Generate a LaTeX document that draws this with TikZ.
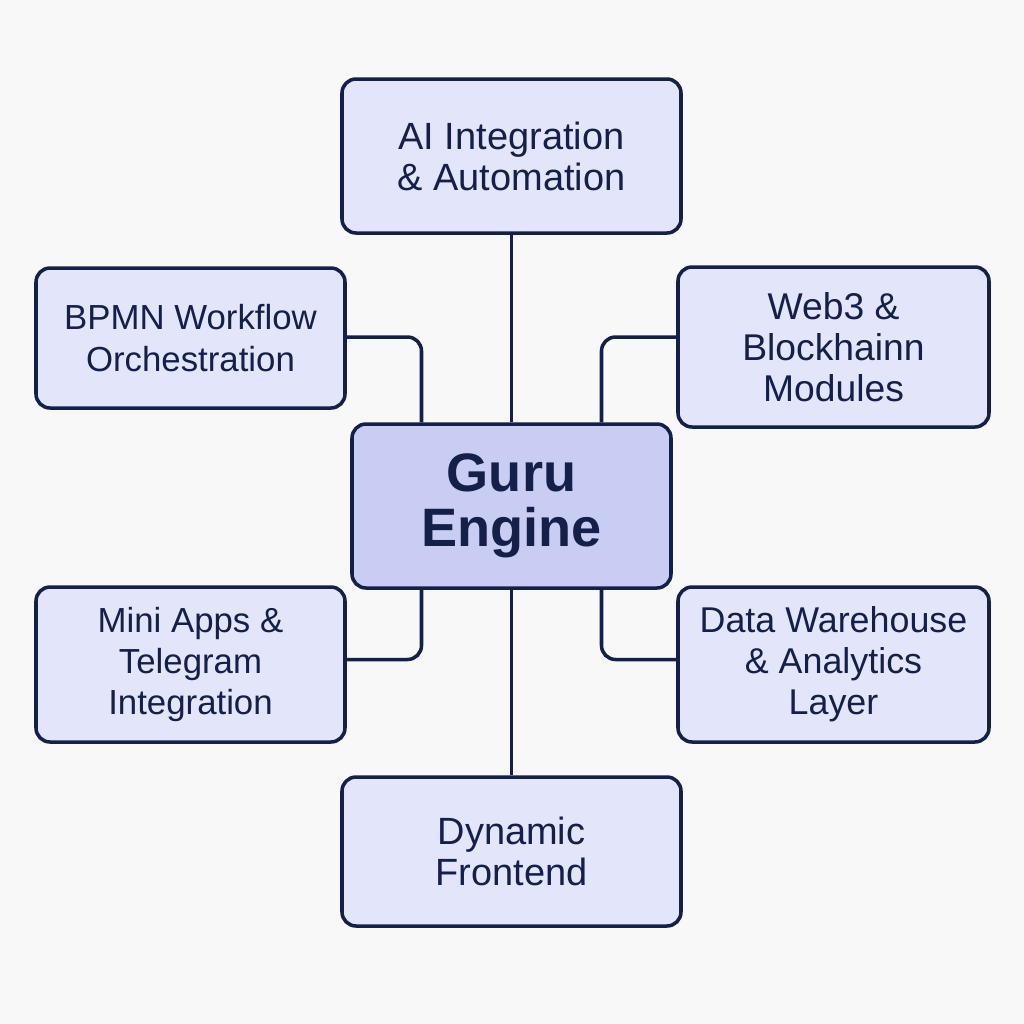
\documentclass[tikz,border=0pt]{standalone}
\usepackage{fontspec}
\setmainfont{Liberation Sans}
\usetikzlibrary{positioning}

\definecolor{pagebg}{HTML}{F8F8F9}
\definecolor{boxfill}{HTML}{E3E5FA}
\definecolor{corefill}{HTML}{C9CDF3}
\definecolor{ink}{HTML}{14204A}

\tikzset{
  module/.style={draw=ink, line width=1pt, rounded corners=4pt, fill=boxfill,
    text=ink, align=center, inner sep=0pt, font=\fontsize{9.9}{11.7}\selectfont},
  bigmodule/.style={module, font=\fontsize{10.8}{11.7}\selectfont},
  core/.style={module, fill=corefill, font=\fontsize{15.4}{15.6}\selectfont\bfseries},
  link/.style={draw=ink, line width=1pt, rounded corners=4pt}
}

\begin{document}
\begin{tikzpicture}
\fill[pagebg] (0,0) rectangle (10.24,-10.24);
\useasboundingbox (0,0) rectangle (10.24,-10.24);

\node[core, minimum width=3.19cm, minimum height=1.64cm] (guru) at (5.115,-5.06) {Guru\\Engine};

\node[bigmodule, minimum width=3.39cm, minimum height=1.54cm] (ai) at (5.115,-1.56) {AI Integration\\\& Automation};
\node[module, minimum width=3.09cm, minimum height=1.40cm] (bpmn) at (1.905,-3.38) {BPMN Workflow\\Orchestration};
\node[module, font=\fontsize{10.6}{11.6}\selectfont, minimum width=3.11cm, minimum height=1.60cm] (web) at (8.335,-3.47) {Web3 \&\\Blockhainn\\Modules};
\node[module, minimum width=3.09cm, minimum height=1.55cm] (mini) at (1.905,-6.645) {Mini Apps \&\\Telegram\\Integration};
\node[module, font=\fontsize{10.2}{11.7}\selectfont, minimum width=3.11cm, minimum height=1.55cm] (data) at (8.335,-6.645) {Data Warehouse\\\& Analytics\\Layer};
\node[bigmodule, minimum width=3.39cm, minimum height=1.49cm] (front) at (5.115,-8.515) {Dynamic\\Frontend};

\draw[link] (ai) -- (guru);
\draw[link] (guru) -- (front);
\draw[link] ([yshift=0.01cm]bpmn.east) -| ([xshift=-0.9cm]guru.north);
\draw[link] ([yshift=0.1cm]web.west) -| ([xshift=0.9cm]guru.north);
\draw[link] ([xshift=-0.9cm]guru.south) |- ([yshift=0.05cm]mini.east);
\draw[link] ([xshift=0.9cm]guru.south) |- ([yshift=0.05cm]data.west);
\end{tikzpicture}
\end{document}
